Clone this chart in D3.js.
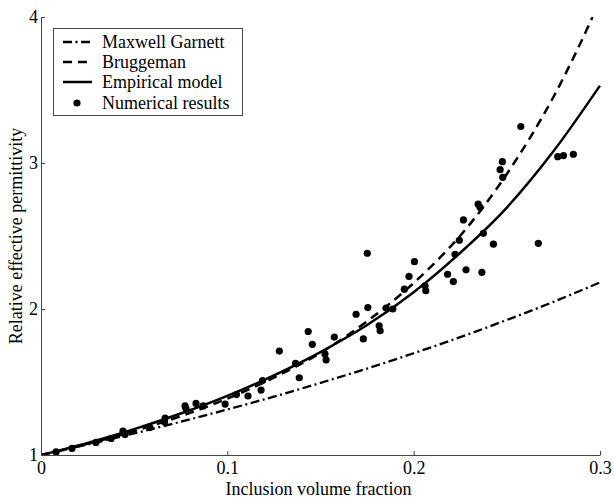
<!DOCTYPE html>
<html><head><meta charset="utf-8">
<script src="https://cdn.jsdelivr.net/npm/d3@7"></script>
<style>body{margin:0;background:#fff}svg{display:block}text{font-family:"Liberation Serif","Times New Roman",serif;fill:#000}</style>
</head><body><div id="c"></div>
<script>
// ---- data ----
const fGrid = [0,0.025,0.05,0.075,0.1,0.125,0.15,0.175,0.2,0.225,0.25,0.275,0.3];
const maxwellGarnett = [1,1.072,1.148,1.228,1.312,1.400,1.494,1.592,1.697,1.807,1.925,2.049,2.182];
const empiricalModel = [1,1.083,1.177,1.284,1.405,1.545,1.705,1.89,2.115,2.385,2.695,3.08,3.53];
const bruggemanF = [0,0.025,0.05,0.075,0.1,0.125,0.15,0.175,0.1875,0.2,0.2125,0.225,0.2375,0.25,0.2625,0.275,0.2875,0.296];
const bruggemanV = [1,1.076,1.163,1.266,1.386,1.53,1.70,1.916,2.04,2.178,2.331,2.502,2.701,2.925,3.174,3.452,3.767,4.0];
const numF = [0.0081,0.0166,0.0295,0.0376,0.0440,0.0451,0.0585,0.0666,0.0663,0.0773,0.0778,0.0832,0.0870,0.0988,0.1049,0.1111,0.1181,0.1189,0.1279,0.1366,0.1386,0.1434,0.1456,0.1524,0.1530,0.1574,0.1691,0.1730,0.1754,0.1751,0.1815,0.1820,0.1852,0.1888,0.1950,0.1975,0.2004,0.2061,0.2065,0.2182,0.2213,0.2222,0.2245,0.2267,0.2281,0.2346,0.2356,0.2366,0.2374,0.2428,0.2464,0.2476,0.2478,0.2575,0.2669,0.2773,0.2804,0.2857];
const numV = [1.021,1.045,1.086,1.113,1.164,1.140,1.188,1.253,1.226,1.336,1.318,1.353,1.336,1.349,1.414,1.404,1.445,1.510,1.712,1.628,1.529,1.846,1.758,1.692,1.651,1.808,1.964,1.795,2.010,2.382,1.885,1.851,2.007,2.000,2.136,2.223,2.324,2.159,2.125,2.238,2.188,2.375,2.471,2.610,2.268,2.718,2.697,2.251,2.518,2.444,2.954,3.009,2.902,3.250,2.450,3.043,3.051,3.060];
const xTicks = [0,0.1,0.2,0.3];
const xTickLabels = ["0","0.1","0.2","0.3"];
const yTicks = [1,2,3,4];
const yTickLabels = ["1","2","3","4"];
const legendLabels = ["Maxwell Garnett","Bruggeman","Empirical model","Numerical results"];

// ---- chart ----
const W=614,H=500;
const x0=41,x1=600,yB=455,yT=17;
const x=d3.scaleLinear().domain([0,0.3]).range([x0,x1]);
const y=d3.scaleLinear().domain([1,4]).range([yB,yT]);
const svg=d3.select("#c").append("svg").attr("width",W).attr("height",H);

svg.append("defs").append("clipPath").attr("id","clip")
  .append("rect").attr("x",x0).attr("y",yT).attr("width",x1-x0+1).attr("height",yB-yT);

const line=d3.line().x(d=>x(d[0])).y(d=>y(d[1])).curve(d3.curveMonotoneX);
const g=svg.append("g").attr("clip-path","url(#clip)");
g.append("path").datum(fGrid.map((f,i)=>[f,maxwellGarnett[i]])).attr("d",line)
  .attr("fill","none").attr("stroke","#000").attr("stroke-width",2.3).attr("stroke-dasharray","9,3.5,2,3.5");
g.append("path").datum(bruggemanF.map((f,i)=>[f,bruggemanV[i]])).attr("d",line)
  .attr("fill","none").attr("stroke","#000").attr("stroke-width",2.5).attr("stroke-dasharray","9,6");
g.append("path").datum(fGrid.map((f,i)=>[f,empiricalModel[i]])).attr("d",line)
  .attr("fill","none").attr("stroke","#000").attr("stroke-width",2.5);
svg.append("g").selectAll("circle").data(numF.map((f,i)=>[f,numV[i]])).join("circle")
  .attr("cx",d=>x(d[0])).attr("cy",d=>y(d[1])).attr("r",3.6).attr("fill","#000");

// axes
const xAxis=d3.axisBottom(x).tickValues(xTicks).tickFormat((d,i)=>xTickLabels[i]).tickSizeInner(-4).tickSizeOuter(0).tickPadding(6);
const gx=svg.append("g").attr("transform",`translate(0,${yB})`).call(xAxis);
const yAxis=d3.axisLeft(y).tickValues(yTicks).tickFormat((d,i)=>yTickLabels[i]).tickSizeInner(-4).tickSizeOuter(0).tickPadding(5);
const gy=svg.append("g").attr("transform",`translate(${x0},0)`).call(yAxis);
[gx,gy].forEach(a=>{
  a.select(".domain").attr("stroke","#444").attr("stroke-width",1);
  a.selectAll(".tick line").attr("stroke","#444");
  a.selectAll("text").style("font-family","'Liberation Serif',serif").style("font-size","18px").attr("fill","#000");
});
gy.selectAll(".tick text").attr("dx","2");

svg.append("text").attr("x",(x0+x1)/2-2).attr("y",495).attr("text-anchor","middle").style("font-size","18px").text("Inclusion volume fraction");
svg.append("text").attr("transform","translate(22,236) rotate(-90)").attr("text-anchor","middle").style("font-size","18px").text("Relative effective permittivity");

// legend
const lg=svg.append("g");
lg.append("rect").attr("x",53.5).attr("y",28.5).attr("width",189).attr("height",87).attr("fill","#fff").attr("stroke","#444").attr("stroke-width",1);
const ly=[42,62,82,103];
const dashes=["9,3.5,2,3.5","9,6",null];
for(let i=0;i<3;i++){
  const p=lg.append("line").attr("x1",63).attr("x2",92).attr("y1",ly[i]).attr("y2",ly[i]).attr("stroke","#000").attr("stroke-width",2.5);
  if(dashes[i]) p.attr("stroke-dasharray",dashes[i]);
}
lg.append("circle").attr("cx",77).attr("cy",ly[3]).attr("r",3.6).attr("fill","#000");
legendLabels.forEach((t,i)=>lg.append("text").attr("x",102).attr("y",ly[i]).attr("dy","0.35em").style("font-size","18px").text(t));
</script></body></html>
